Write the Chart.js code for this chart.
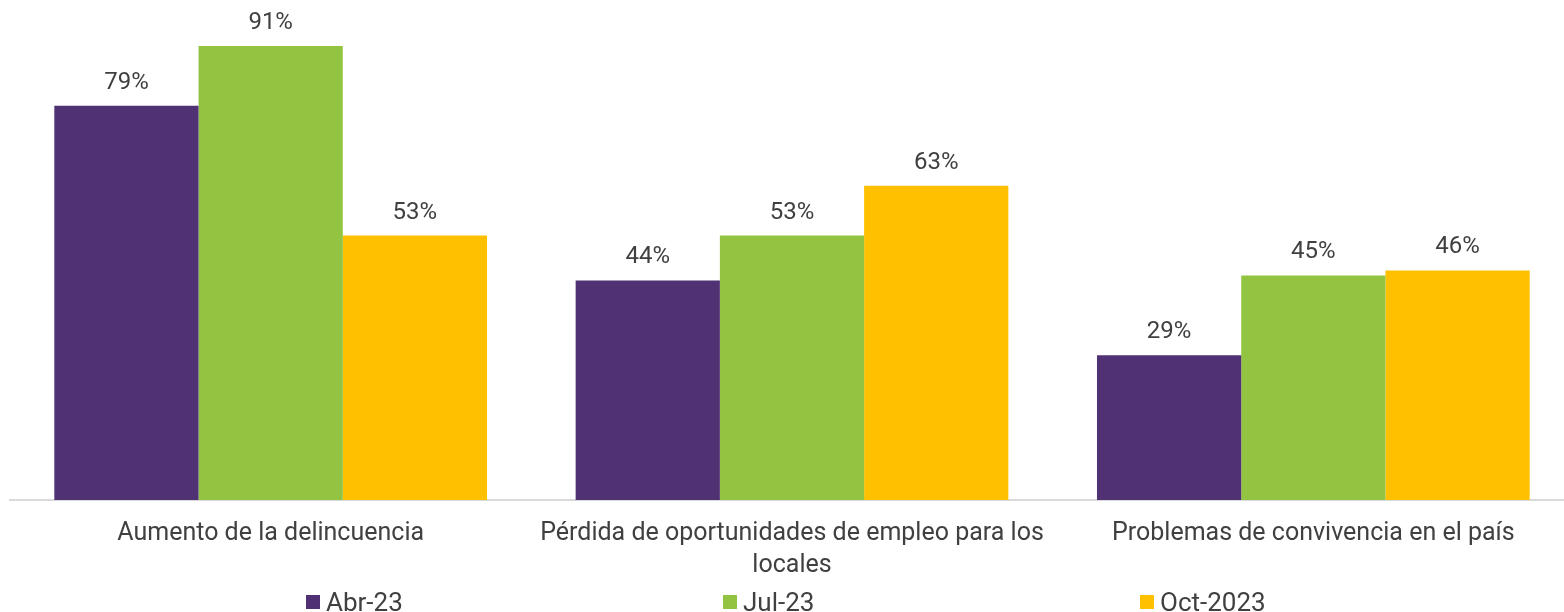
<!DOCTYPE html>
<html>
<head>
<meta charset="utf-8">
<title>Percepción</title>
<script src="https://cdn.jsdelivr.net/npm/chart.js@4"></script>
<style>
  html, body { margin: 0; padding: 0; background: #ffffff; overflow: hidden; }
  body { width: 1564px; height: 612px; position: relative; font-family: Roboto, sans-serif; }
  #wrap { position: absolute; left: 0; top: 0; width: 1574px; height: 600px; }
  #legend { position: absolute; left: 306px; top: 586px; height: 32px; display: flex; font-size: 26px; color: #404040; line-height: 32px; }
  .item { width: 417px; display: flex; align-items: center; }
  .box { width: 14px; height: 14px; margin-right: 6px; }
</style>
</head>
<body>
<div id="wrap"><canvas id="chart"></canvas></div>
<div id="legend"></div>

<script>
// data
const categories = [
  'Aumento de la delincuencia',
  ['Pérdida de oportunidades de empleo para los', 'locales'],
  'Problemas de convivencia en el país'
];
const seriesNames = ['Abr-23', 'Jul-23', 'Oct-2023'];
const abr23 = [79, 44, 29];
const jul23 = [91, 53, 45];
const oct23 = [53, 63, 46];
const colors = ['#4f3174', '#92c441', '#ffc000'];

// simple value labels above each bar
const barLabels = {
  id: 'barLabels',
  afterDatasetsDraw(chart) {
    const ctx = chart.ctx;
    ctx.save();
    ctx.font = '24px Roboto';
    ctx.fillStyle = '#404040';
    ctx.textAlign = 'center';
    ctx.textBaseline = 'middle';
    chart.data.datasets.forEach((ds, i) => {
      chart.getDatasetMeta(i).data.forEach((bar, j) => {
        ctx.fillText(ds.data[j] + '%', bar.x, bar.y - 23);
      });
    });
    ctx.restore();
  }
};

const allSeries = [abr23, jul23, oct23];

new Chart(document.getElementById('chart'), {
  type: 'bar',
  data: {
    labels: categories,
    datasets: allSeries.map((vals, i) => ({
      label: seriesNames[i],
      data: vals,
      backgroundColor: colors[i],
      borderWidth: 0,
      categoryPercentage: 0.83,
      barPercentage: 1
    }))
  },
  options: {
    responsive: true,
    maintainAspectRatio: false,
    animation: false,
    layout: { padding: { left: 10, right: 0, top: 1, bottom: 0 } },
    scales: {
      y: { min: 0, max: 100, display: false },
      x: {
        grid: { display: false, drawTicks: false },
        border: { display: true, color: '#d9d9d9', width: 2 },
        ticks: {
          color: '#404040',
          padding: 18,
          maxRotation: 0,
          autoSkip: false,
          font: { family: 'Roboto', size: 25, lineHeight: 1.28 }
        }
      }
    },
    plugins: {
      legend: { display: false },
      tooltip: { enabled: false }
    }
  },
  plugins: [barLabels]
});

// legend spread across the bottom like the original
const legend = document.getElementById('legend');
seriesNames.forEach((name, i) => {
  const item = document.createElement('div');
  item.className = 'item';
  item.innerHTML = '<span class="box" style="background:' + colors[i] + '"></span><span>' + name + '</span>';
  legend.appendChild(item);
});
</script>
</body>
</html>
